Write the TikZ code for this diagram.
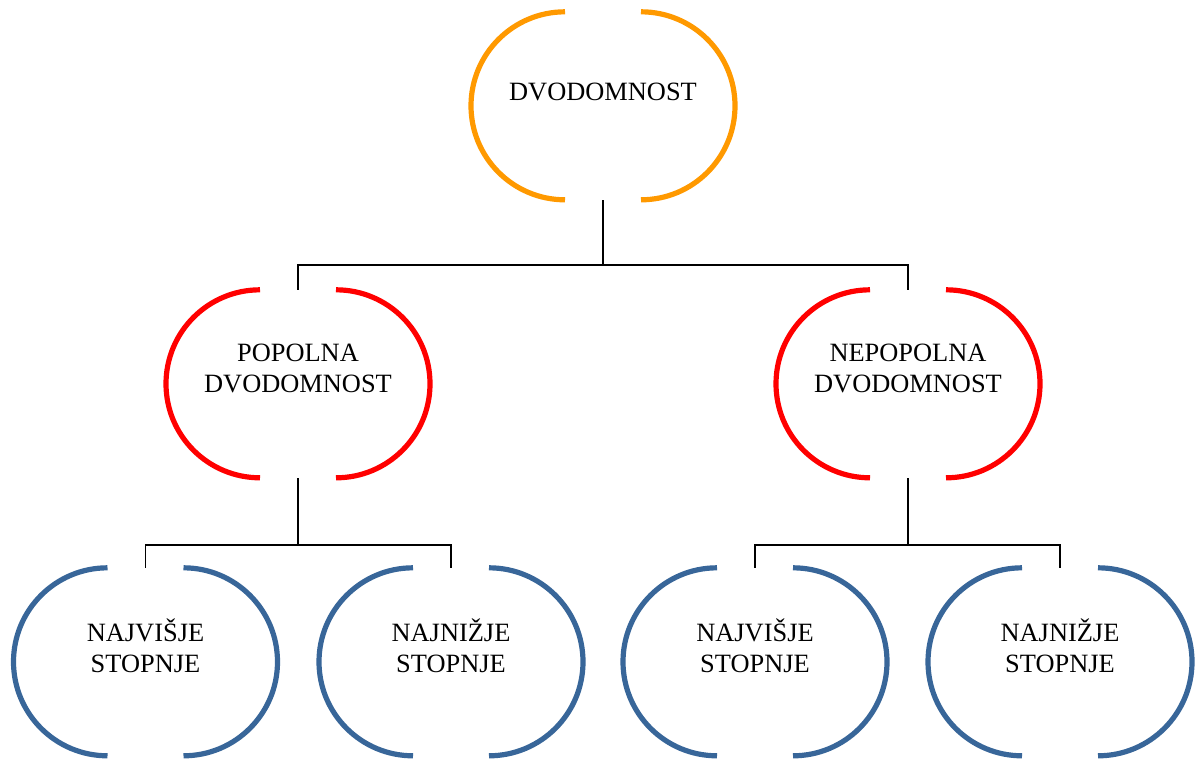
\documentclass[tikz,border=0pt]{standalone}
\usepackage{fontspec}
\setmainfont{Liberation Serif}
\usetikzlibrary{calc}
\definecolor{cOrange}{RGB}{255,153,0}
\definecolor{cRed}{RGB}{255,0,0}
\definecolor{cBlue}{RGB}{56,102,153}
\tikzset{
  box/.style={draw=none, minimum width=264pt, minimum height=188pt, inner sep=0pt},
  lbl/.style={align=center, font=\fontsize{26.4}{30.5}\selectfont, inner sep=0pt, anchor=base},
  conn/.style={draw=black, line width=1.6pt},
  arcline/.style={line width=5.2pt},
}
\newcommand{\splitbox}[2]{%
  \draw[arcline, #2] ([xshift=-38pt]#1.north) arc[start angle=90, end angle=270, radius=94pt];
  \draw[arcline, #2] ([xshift=38pt]#1.north) arc[start angle=90, end angle=-90, radius=94pt];
}
\begin{document}
\begin{tikzpicture}[x=1pt,y=1pt]
\useasboundingbox (0,0) rectangle (1196,-758);
% shapes
\node[box] (top) at (603,-106) {};
\node[box] (midL) at (298,-384) {};
\node[box] (midR) at (908,-384) {};
\node[box] (b1) at (145.5,-662) {};
\node[box] (b2) at (451,-662) {};
\node[box] (b3) at (755,-662) {};
\node[box] (b4) at (1060,-662) {};
\splitbox{top}{cOrange}
\splitbox{midL}{cRed}
\splitbox{midR}{cRed}
\splitbox{b1}{cBlue}
\splitbox{b2}{cBlue}
\splitbox{b3}{cBlue}
\splitbox{b4}{cBlue}
% labels
\node[lbl] (tTop) at (603,-100) {DVODOMNOST};
\node[lbl] (tMidL) at (298,-392) {POPOLNA\\DVODOMNOST};
\node[lbl] (tMidR) at (908,-392) {NEPOPOLNA\\DVODOMNOST};
\node[lbl] (tB1) at (145.5,-672) {NAJVIŠJE\\STOPNJE};
\node[lbl] (tB2) at (451,-672) {NAJNIŽJE\\STOPNJE};
\node[lbl] (tB3) at (755,-672) {NAJVIŠJE\\STOPNJE};
\node[lbl] (tB4) at (1060,-672) {NAJNIŽJE\\STOPNJE};
% connectors
\coordinate (j1) at (603,-265);
\coordinate (j2) at (298,-545);
\coordinate (j3) at (908,-545);
\draw[conn] (top.south) -- (j1);
\draw[conn] (midL.north) |- (j1) -| (midR.north);
\draw[conn] (midL.south) -- (j2);
\draw[conn] (b1.north) |- (j2) -| (b2.north);
\draw[conn] (midR.south) -- (j3);
\draw[conn] (b3.north) |- (j3) -| (b4.north);
\end{tikzpicture}
\end{document}
